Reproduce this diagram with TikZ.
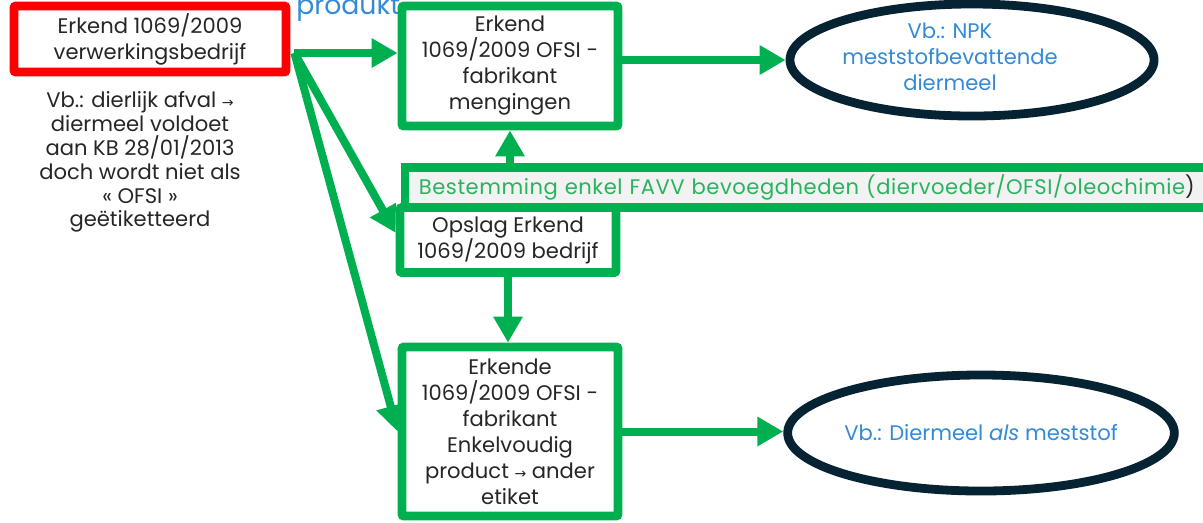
\documentclass[tikz,border=0pt]{standalone}
\usepackage{fontspec}
\setmainfont{Poppins}
\newfontfamily\symfont{DejaVu Sans}
\usetikzlibrary{arrows.meta,shapes.geometric}
\definecolor{vgreen}{RGB}{0,176,80}
\definecolor{vlgreen}{RGB}{40,180,95}
\definecolor{vred}{RGB}{255,0,0}
\definecolor{vnavy}{RGB}{6,35,52}
\definecolor{vblue}{RGB}{52,138,214}
\definecolor{vtext}{RGB}{38,38,38}
\definecolor{vgrey}{RGB}{242,242,242}
\newcommand\pijl{{\symfont\fontsize{10}{18}\selectfont →}}
\tikzset{
  box/.style={draw=vgreen, line width=0.22cm, fill=white, rounded corners=0.05cm,
    align=center, text=vtext, font=\fontsize{15}{18.5}\selectfont, inner sep=0pt},
  redbox/.style={box, draw=vred},
  ell/.style={ellipse, draw=vnavy, line width=0.22cm, fill=white, inner sep=0pt},
  flow/.style={vgreen, line width=0.2cm, -{Triangle[length=0.65cm,width=0.7cm]}},
}
\begin{document}
\begin{tikzpicture}[x=0.025cm,y=-0.025cm]
\useasboundingbox (0,0) rectangle (1203,522);
\clip (0,0) rectangle (1203,522);
% source
\node[anchor=base west, inner sep=0pt, text=vblue, font=\fontsize{19}{22}\selectfont] (prod) at (296,14) {produkt};
\node[redbox, minimum width=6.8cm, minimum height=1.65cm] (verw) at (150,39) {Erkend 1069/2009\\verwerkingsbedrijf};
\node[align=center, text=vtext, font=\fontsize{15}{17}\selectfont] (vb) at (140,162)
  {Vb.: dierlijk afval \pijl\\diermeel voldoet\\aan KB 28/01/2013\\doch wordt niet als\\« OFSI »\\geëtiketteerd};
% banner
\node[draw=vgreen, line width=0.22cm, fill=vgrey, anchor=west, text width=22cm, align=left,
  inner xsep=0.35cm, minimum height=1.0cm, text=vlgreen,
  font=\fontsize{15}{18}\selectfont\addfontfeature{LetterSpace=2.5}] (dest) at (400.5,187.5)
  {Bestemming enkel FAVV bevoegdheden (diervoeder/OFSI/oleochimie\textcolor{vtext}{)}};
% targets
\node[box, minimum width=5.4cm, minimum height=3.0cm] (meng) at (510,66) {Erkend\\1069/2009 OFSI -\\fabrikant\\mengingen};
\node[box, minimum width=5.4cm, minimum height=1.625cm] (opslag) at (508,240) {Opslag Erkend\\1069/2009 bedrijf};
\node[box, minimum width=5.4cm, minimum height=4.225cm] (enkel) at (510,431.5)
  {Erkende\\1069/2009 OFSI -\\fabrikant\\Enkelvoudig\\product \pijl{} ander\\etiket};
\node[ell, minimum width=9.1cm, minimum height=2.8cm] (npk) at (972,60) {};
\node[align=center, text=vblue, font=\fontsize{15}{18.5}\selectfont] (npktxt) at (950,57) {Vb.: NPK\\meststofbevattende\\diermeel};
\node[ell, minimum width=9.1cm, minimum height=2.9cm, text=vblue, font=\fontsize{15}{18}\selectfont] (dm) at (981,433)
  {Vb.: Diermeel \textit{als} meststof};
% arrows
\coordinate (src) at ([xshift=0.1cm,yshift=-0.35cm]verw.east);
\draw[flow] (src) -- (src -| meng.west);
\draw[flow] (src) -- ([yshift=0.18cm]opslag.west);
\draw[flow] (src) -- (enkel.west);
\draw[flow] (meng.east |- npk.west) -- (npk.west);
\draw[flow] (enkel.east) -- (enkel.east -| dm.west);
\draw[flow] (meng.south |- dest.north) -- (meng.south);
\draw[flow] (opslag.south) -- (opslag.south |- enkel.north);
\end{tikzpicture}
\end{document}
